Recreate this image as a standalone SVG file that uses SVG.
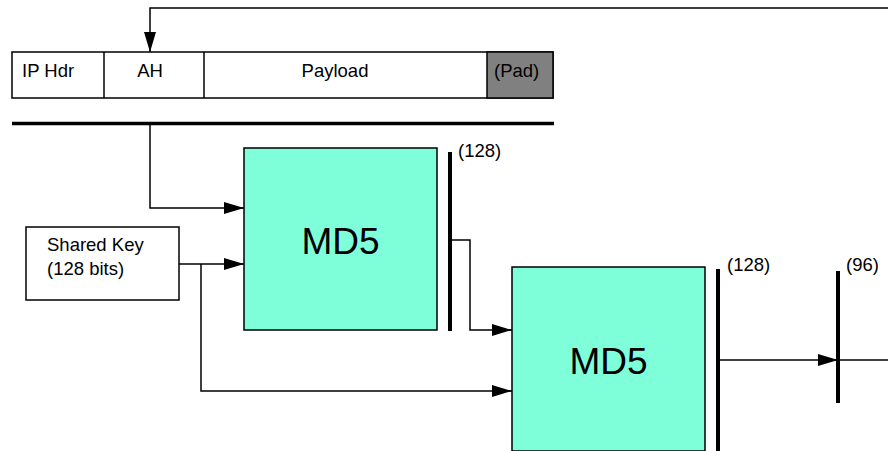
<svg xmlns="http://www.w3.org/2000/svg" width="888" height="451" viewBox="0 0 888 451">
  <style>
    text { font-family: "Liberation Sans", Arial, sans-serif; fill: #000; }
    .lbl { font-size: 18.5px; }
    .big { font-size: 37px; text-anchor: middle; }
    .box { fill: #fff; stroke: #000; stroke-width: 1.5; }
    .md5 { fill: #7fffd9; stroke: #000; stroke-width: 1.5; }
    .wire { fill: none; stroke: #000; stroke-width: 1.5; }
    .bar { stroke: #000; stroke-width: 4; }
  </style>
  <defs>
    <marker id="arrow" markerUnits="userSpaceOnUse" markerWidth="20" markerHeight="12" refX="20" refY="6" orient="auto">
      <path d="M0,0 L20,6 L0,12 Z" fill="#000"/>
    </marker>
  </defs>
  <rect width="888" height="451" fill="#fff"/>

  <!-- packet layout -->
  <g id="packet">
    <rect class="box" x="12" y="52" width="541" height="46"/>
    <rect x="487" y="52" width="66" height="46" fill="#808080" stroke="#000" stroke-width="1.5"/>
    <line class="wire" x1="104" y1="52" x2="104" y2="98"/>
    <line class="wire" x1="204" y1="52" x2="204" y2="98"/>
    <text class="lbl" x="22" y="77">IP Hdr</text>
    <text class="lbl" x="150" y="77" text-anchor="middle">AH</text>
    <text class="lbl" x="335" y="77" text-anchor="middle">Payload</text>
    <text class="lbl" x="494" y="77">(Pad)</text>
  </g>
  <g id="packet-bar">
    <line x1="12" y1="123.5" x2="554" y2="123.5" stroke="#000" stroke-width="3.5"/>
  </g>

  <g id="shared-key">
    <rect class="box" x="26" y="227" width="153" height="73"/>
    <text class="lbl" x="47" y="251">Shared Key</text>
    <text class="lbl" x="47" y="275">(128 bits)</text>
  </g>

  <g id="md5-1">
    <rect class="md5" x="244" y="148" width="193" height="182"/>
    <text class="big" x="340.5" y="254">MD5</text>
  </g>

  <g id="md5-2">
    <rect class="md5" x="512" y="267" width="193" height="184"/>
    <text class="big" x="608.5" y="374">MD5</text>
  </g>

  <g id="out-128-a">
    <line class="bar" x1="450" y1="152" x2="450" y2="331"/>
    <text class="lbl" x="458" y="157">(128)</text>
  </g>

  <g id="out-128-b">
    <line class="bar" x1="718" y1="269" x2="718" y2="451"/>
    <text class="lbl" x="727" y="271">(128)</text>
  </g>

  <g id="out-96">
    <line class="bar" x1="838" y1="271" x2="838" y2="403"/>
    <text class="lbl" x="846" y="271">(96)</text>
  </g>

  <!-- connectors -->
  <g id="connectors">
    <path class="wire" d="M888,8 H150 V52" marker-end="url(#arrow)"/>
    <path class="wire" d="M150,125 V208 H244" marker-end="url(#arrow)"/>
    <path class="wire" d="M179,264 H244" marker-end="url(#arrow)"/>
    <path class="wire" d="M201,264 V391 H512" marker-end="url(#arrow)"/>
    <path class="wire" d="M452,240 H470 V330 H512" marker-end="url(#arrow)"/>
    <path class="wire" d="M720,360 H838" marker-end="url(#arrow)"/>
    <path class="wire" d="M838,360 H888"/>
  </g>
</svg>
